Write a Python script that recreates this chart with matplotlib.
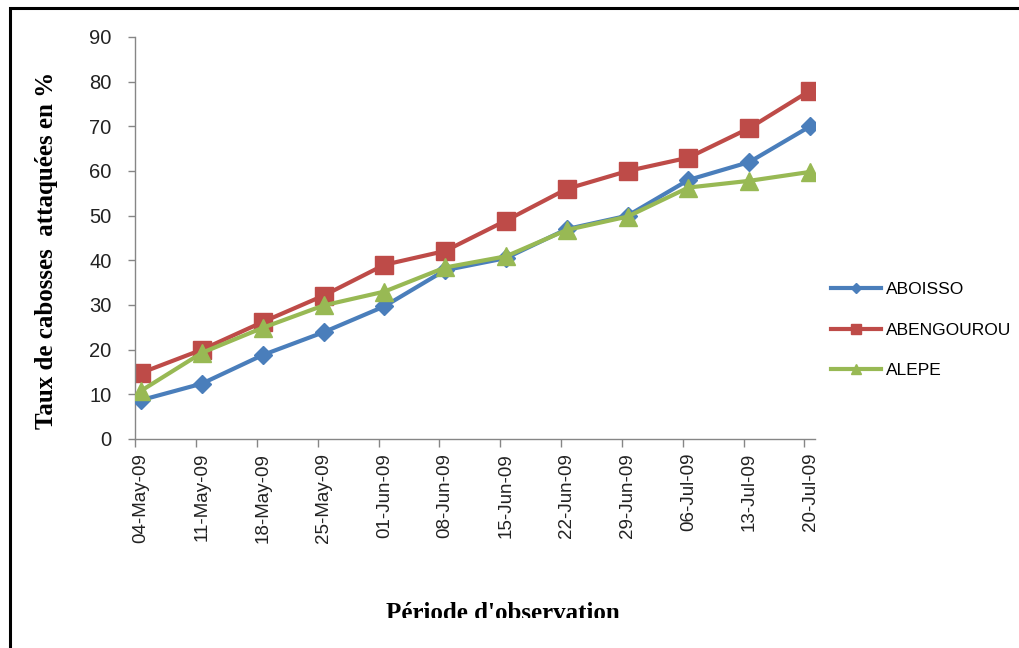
import numpy as np
import matplotlib.pyplot as plt
from matplotlib.patches import Rectangle
from matplotlib.transforms import Bbox

dates = ['04-May-09', '11-May-09', '18-May-09', '25-May-09', '01-Jun-09', '08-Jun-09',
         '15-Jun-09', '22-Jun-09', '29-Jun-09', '06-Jul-09', '13-Jul-09', '20-Jul-09']
aboisso = [8.7, 12.4, 18.8, 23.9, 29.7, 37.8, 40.5, 47, 50, 58, 62, 70]
abengourou = [14.8, 20, 26.2, 32.1, 39, 42.1, 48.9, 56, 60, 63, 69.6, 78]
alepe = [10.8, 19.3, 24.9, 29.9, 33, 38.4, 40.9, 46.8, 49.8, 56.3, 57.8, 59.8]

blue = '#4A7EBB'
red = '#BE4B48'
green = '#98B954'

fig = plt.figure(figsize=(10.2, 6.48), dpi=100)
ax = fig.add_axes([135 / 1020, 209 / 648, 680 / 1020, 402 / 648])

x = np.arange(len(dates))
ax.plot(x, aboisso, color=blue, lw=3, marker='D', ms=9, label='ABOISSO', zorder=3)
ax.plot(x, abengourou, color=red, lw=3, marker='s', ms=13, label='ABENGOUROU', zorder=2)
ax.plot(x, alepe, color=green, lw=3, marker='^', ms=13, label='ALEPE', zorder=4)

ax.set_xlim(-0.1, 11.08)
ax.set_ylim(0, 90)
ax.set_yticks(range(0, 91, 10))
ax.set_xticks(x)
ax.set_xticklabels(dates, rotation=90, fontsize=13.5, family='Liberation Sans')
ax.set_xticks(x - 0.095, minor=True)
ax.tick_params(axis='x', which='major', length=0, pad=10)
ax.tick_params(axis='x', which='minor', length=6, color='#868686', width=1)
ax.tick_params(axis='y', length=5, color='#868686', width=1, pad=12)
for lab in ax.get_yticklabels():
    lab.set_fontsize(14.5)
    lab.set_family('Liberation Sans')
    lab.set_color('#222222')
for lab in ax.get_xticklabels():
    lab.set_color('#222222')

for s in ['top', 'right']:
    ax.spines[s].set_visible(False)
for s in ['left', 'bottom']:
    ax.spines[s].set_color('#868686')
    ax.spines[s].set_linewidth(1)

fig.text(47 / 1020, 1 - 250 / 648, 'Taux de cabosses  attaquées en %', rotation=90,
         ha='center', va='center', fontsize=18, fontweight='bold', family='Liberation Serif')
xl = fig.text(503 / 1020, 1 - 614 / 648, "Période d'observation", ha='center', va='center',
              fontsize=18, fontweight='bold', family='Liberation Serif')
xl.set_clip_box(Bbox([[0, 30], [1020, 648]]))
xl.set_clip_on(True)

leg = fig.legend(loc='center left', bbox_to_anchor=(815 / 1020, 1 - 330 / 648), frameon=False,
                 prop={'family': 'Liberation Sans', 'size': 12.5}, labelspacing=1.45,
                 handlelength=2.9, handletextpad=0.3, markerscale=0.55)

fig.add_artist(Rectangle((10 / 1020, -0.1), 1.2, 1 - 8 / 648 + 0.1, transform=fig.transFigure,
                         fill=False, ec='black', lw=2.2, clip_on=False))

fig.savefig('out.png', dpi=100)
